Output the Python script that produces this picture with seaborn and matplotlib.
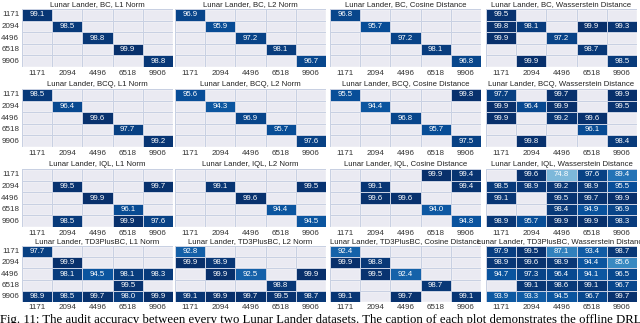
import numpy as np
import matplotlib
matplotlib.use("Agg")
import matplotlib.pyplot as plt
from matplotlib.colors import PowerNorm
import seaborn as sns

nan = np.nan
labels = ["1171", "2094", "4496", "6518", "9906"]
algos = ["BC", "BCQ", "IQL", "TD3PlusBC"]
metrics = ["L1 Norm", "L2 Norm", "Cosine Distance", "Wasserstein Distance"]

# audit accuracy, rows = y labels (top to bottom), cols = x labels
bc_l1 = [[99.1, nan, nan, nan, nan],
         [nan, 98.5, nan, nan, nan],
         [nan, nan, 98.8, nan, nan],
         [nan, nan, nan, 99.9, nan],
         [nan, nan, nan, nan, 98.8]]
bc_l2 = [[96.9, nan, nan, nan, nan],
         [nan, 95.9, nan, nan, nan],
         [nan, nan, 97.2, nan, nan],
         [nan, nan, nan, 98.1, nan],
         [nan, nan, nan, nan, 96.7]]
bc_cos = [[96.8, nan, nan, nan, nan],
          [nan, 95.7, nan, nan, nan],
          [nan, nan, 97.2, nan, nan],
          [nan, nan, nan, 98.1, nan],
          [nan, nan, nan, nan, 96.8]]
bc_wass = [[99.5, nan, nan, nan, nan],
           [99.8, 98.1, nan, 99.9, 99.3],
           [99.9, nan, 97.2, nan, nan],
           [nan, nan, nan, 98.7, nan],
           [nan, 99.9, nan, nan, 98.5]]

bcq_l1 = [[98.5, nan, nan, nan, nan],
          [nan, 96.4, nan, nan, nan],
          [nan, nan, 99.6, nan, nan],
          [nan, nan, nan, 97.7, nan],
          [nan, nan, nan, nan, 99.2]]
bcq_l2 = [[95.6, nan, nan, nan, nan],
          [nan, 94.3, nan, nan, nan],
          [nan, nan, 96.9, nan, nan],
          [nan, nan, nan, 95.7, nan],
          [nan, nan, nan, nan, 97.6]]
bcq_cos = [[95.5, nan, nan, nan, 99.8],
           [nan, 94.4, nan, nan, nan],
           [nan, nan, 96.8, nan, nan],
           [nan, nan, nan, 95.7, nan],
           [nan, nan, nan, nan, 97.5]]
bcq_wass = [[97.7, nan, 99.7, nan, 99.9],
            [99.9, 96.4, 99.9, nan, 99.5],
            [99.9, nan, 99.2, 99.6, nan],
            [nan, nan, nan, 96.1, nan],
            [nan, 99.8, nan, nan, 98.4]]

iql_l1 = [[nan, nan, nan, nan, nan],
          [nan, 99.5, nan, nan, 99.7],
          [nan, nan, 99.9, nan, nan],
          [nan, nan, nan, 96.1, nan],
          [nan, 98.5, nan, 99.9, 97.6]]
iql_l2 = [[nan, nan, nan, nan, nan],
          [nan, 99.1, nan, nan, 99.5],
          [nan, nan, 99.6, nan, nan],
          [nan, nan, nan, 94.4, nan],
          [nan, nan, nan, nan, 94.5]]
iql_cos = [[nan, nan, nan, 99.9, 99.4],
           [nan, 99.1, nan, nan, 99.4],
           [nan, 99.6, 99.6, nan, nan],
           [nan, nan, nan, 94.0, nan],
           [nan, nan, nan, nan, 94.8]]
iql_wass = [[nan, 99.6, 74.8, 97.6, 89.4],
            [98.5, 98.9, 99.2, 98.9, 95.5],
            [99.1, nan, 99.5, 99.7, 99.9],
            [nan, nan, 98.4, 94.9, 96.9],
            [98.9, 95.7, 99.9, 99.9, 98.3]]

td3_l1 = [[97.7, nan, nan, nan, nan],
          [nan, 99.9, nan, nan, nan],
          [nan, 98.1, 94.5, 98.1, 98.3],
          [nan, nan, nan, 99.5, nan],
          [98.9, 98.5, 99.7, 98.0, 99.9]]
td3_l2 = [[92.8, nan, nan, nan, nan],
          [99.9, 98.9, nan, nan, nan],
          [nan, 99.9, 92.5, nan, 99.9],
          [nan, nan, nan, 98.8, nan],
          [99.1, 99.9, 99.7, 99.5, 98.7]]
td3_cos = [[92.4, nan, nan, nan, nan],
           [99.9, 98.8, nan, nan, nan],
           [nan, 99.5, 92.4, nan, nan],
           [nan, nan, nan, 98.7, nan],
           [99.1, nan, 99.7, nan, 99.1]]
td3_wass = [[97.9, 99.5, 87.1, 93.4, 98.7],
            [98.9, 99.6, 98.9, 94.4, 85.6],
            [94.7, 97.3, 96.4, 94.1, 96.5],
            [nan, 99.1, 98.6, 99.1, 96.7],
            [93.9, 93.3, 94.5, 96.7, 99.7]]

grid_data = [[bc_l1, bc_l2, bc_cos, bc_wass],
             [bcq_l1, bcq_l2, bcq_cos, bcq_wass],
             [iql_l1, iql_l2, iql_cos, iql_wass],
             [td3_l1, td3_l2, td3_cos, td3_wass]]

sns.set_theme(style="darkgrid")
plt.rcParams["font.family"] = ["Liberation Sans", "DejaVu Sans"]

W, H = 640, 323
fig = plt.figure(figsize=(W / 100, H / 100), dpi=100)

lefts = [22, 175, 330, 486]
tops = [9, 89, 169, 246]
heights = [58, 58, 58, 56]
pw = 151
norm = PowerNorm(gamma=2.7, vmin=0, vmax=100)

for i, algo in enumerate(algos):
    ph = heights[i]
    for j, metric in enumerate(metrics):
        ax = fig.add_axes([lefts[j] / W, 1 - (tops[i] + ph) / H, pw / W, ph / H])
        mat = np.array(grid_data[i][j], dtype=float)
        sns.heatmap(mat, ax=ax, cmap="Blues", norm=norm, cbar=False,
                    annot=True, fmt=".1f",
                    annot_kws={"fontsize": 5.6, "color": "white"},
                    linewidths=0.6, linecolor="#c8d0e2",
                    xticklabels=labels,
                    yticklabels=labels if j == 0 else False)
        # white cell borders on the empty background
        ax.set_xticks(np.arange(6), minor=True)
        ax.set_yticks(np.arange(6), minor=True)
        ax.grid(False, which="major")
        ax.grid(True, which="minor", color="white", linewidth=1)
        ax.tick_params(which="both", length=0, labelsize=5.8, pad=2,
                       labelcolor="#333333")
        ax.tick_params(axis="x", pad=1.5 if i == 3 else 2)
        ax.tick_params(axis="y", rotation=0)
        ax.tick_params(axis="x", rotation=0)
        ax.set_title(f"Lunar Lander, {algo}, {metric}", fontsize=5.6,
                     pad=2, color="#222222")

fig.text(0.0, 1 - 313.5 / H,
         "Fig. 11: The audit accuracy between every two Lunar Lander datasets. "
         "The caption of each plot demonstrates the offline DRL",
         family=["Liberation Serif", "DejaVu Serif"], fontsize=9.2,
         va="top", ha="left", color="black")

fig.savefig("out.png", dpi=100)
